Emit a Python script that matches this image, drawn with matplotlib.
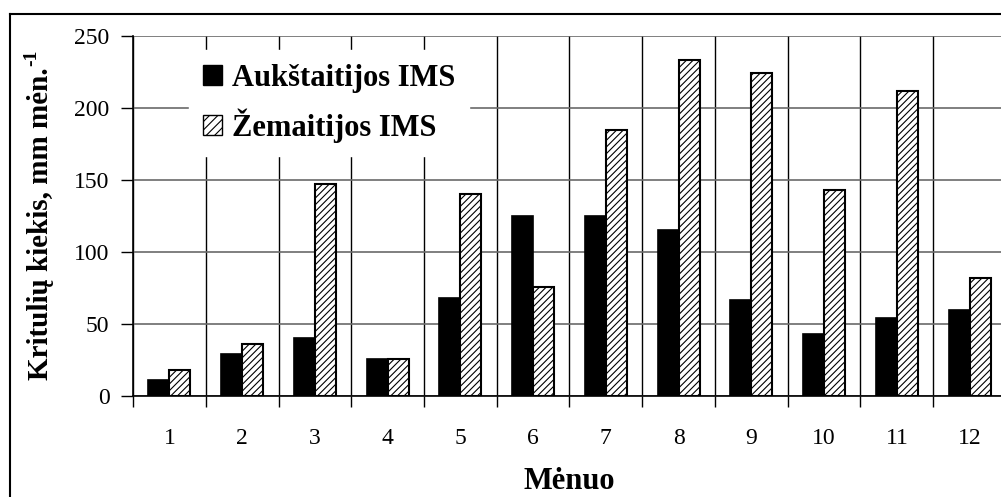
import matplotlib
matplotlib.use("Agg")
import matplotlib.pyplot as plt
import numpy as np
from matplotlib.patches import Patch
from matplotlib.lines import Line2D

months = [1, 2, 3, 4, 5, 6, 7, 8, 9, 10, 11, 12]
aukstaitijos = [11, 29, 40, 26, 68, 125, 125, 115, 67, 43, 54, 60]
zemaitijos = [18, 36, 147, 26, 140, 76, 185, 233, 224, 143, 212, 82]
series_names = ["Aukštaitijos IMS", "Žemaitijos IMS"]
yticks = [0, 50, 100, 150, 200, 250]

plt.rcParams['font.family'] = ['Liberation Serif', 'DejaVu Serif']
plt.rcParams['hatch.linewidth'] = 0.8

W, H = 1001, 497
fig = plt.figure(figsize=(W / 100, H / 100), dpi=100)
ax = fig.add_axes([133 / W, 101 / H, 873 / W, 360 / H])

x = np.array(months, dtype=float)
bw = 0.29
ax.bar(x - bw / 2, aukstaitijos, width=bw, color='black', edgecolor='black',
       linewidth=1.2, zorder=3)
ax.bar(x + bw / 2, zemaitijos, width=bw, color='white', edgecolor='black',
       hatch='/////', linewidth=1.5, zorder=3)

ax.set_xlim(0.5, 12.5)
ax.set_ylim(0, 250)
ax.set_yticks(yticks)
ax.set_yticklabels([str(v) for v in yticks], fontsize=17)
ax.set_xticks(x)
ax.set_xticklabels([str(m) for m in months], fontsize=17)
ax.set_xticks(np.arange(0.5, 13, 1), minor=True)
ax.tick_params(axis='x', which='major', length=0, pad=23)
ax.tick_params(axis='x', which='minor', length=8, width=1, direction='out', color='black')
ax.tick_params(axis='y', length=9, width=1, direction='out', pad=8)

ax.grid(axis='y', color='#6a6a6a', linewidth=1.2, zorder=0)
ax.grid(axis='x', which='minor', color='black', linewidth=1.0, zorder=0)
ax.set_axisbelow(True)
for s in ['top', 'right']:
    ax.spines[s].set_visible(False)
ax.spines['left'].set_linewidth(1.2)
ax.spines['bottom'].set_linewidth(1.2)

ax.set_xlabel('Mėnuo', fontsize=22, fontweight='bold', labelpad=13)
ylab = fig.text(41 / W, 1 - 224 / H, 'Kritulių kiekis, mm mėn.',
                rotation=90, ha='center', va='center', fontsize=21, fontweight='bold')
ax.annotate('-1', xy=(0.0, 1.0), xycoords=ylab, xytext=(-3, 1),
            textcoords='offset points', rotation=90, ha='left', va='bottom',
            fontsize=14, fontweight='bold', annotation_clip=False)

handles = [Patch(facecolor='black', edgecolor='black'),
           Patch(facecolor='white', edgecolor='black', hatch='////', linewidth=1.0)]
leg = ax.legend(handles, series_names, loc='upper left',
                bbox_to_anchor=(189 / W, 1 - 50 / H), bbox_transform=fig.transFigure,
                frameon=True, fancybox=False, edgecolor='white', framealpha=1,
                prop={'family': 'Liberation Serif', 'weight': 'bold', 'size': 22},
                handlelength=0.62, handleheight=0.62, handletextpad=0.35,
                labelspacing=0.5, borderpad=0.45, borderaxespad=0)
leg.set_zorder(5)

# outer chart border (top and left visible)
fig.add_artist(Line2D([10 / W, 1.0], [1 - 14 / H, 1 - 14 / H], transform=fig.transFigure,
                      color='black', linewidth=1.5))
fig.add_artist(Line2D([10 / W, 10 / W], [1 - 14 / H, 0], transform=fig.transFigure,
                      color='black', linewidth=1.5))

fig.savefig('out.png', dpi=100)
